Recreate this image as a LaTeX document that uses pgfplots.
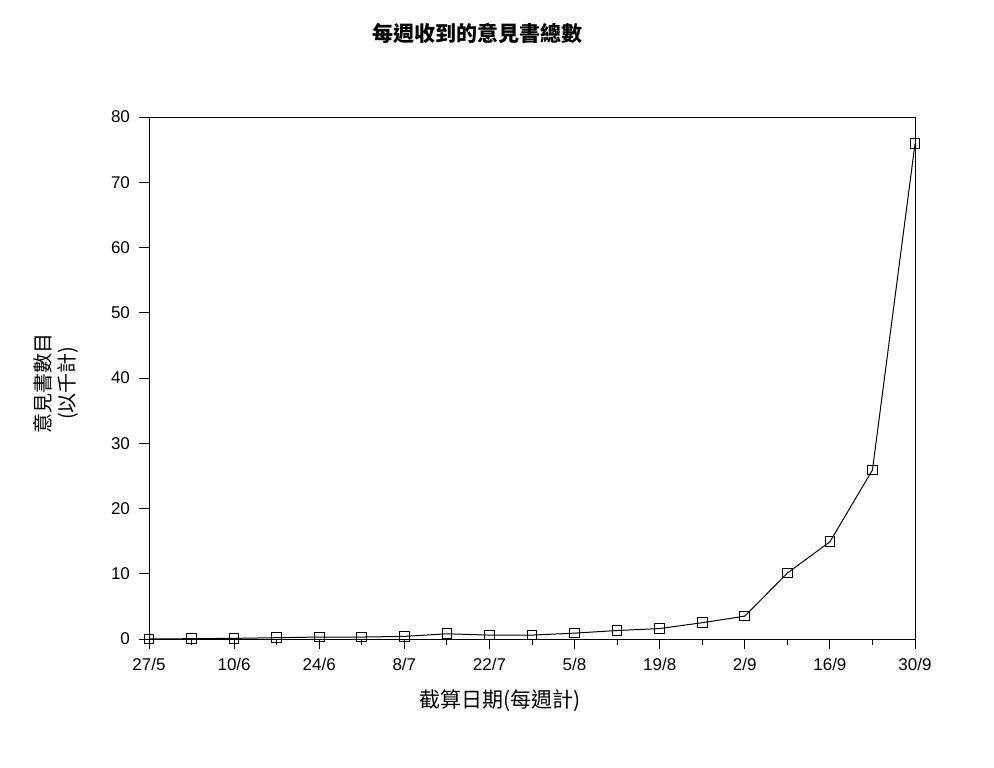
\documentclass[border=0pt]{standalone}
\usepackage{pgfplots}
\pgfplotsset{compat=1.18}
\usepackage{fontspec}
\setmainfont{Liberation Sans}
\newfontfamily\cjk{Noto Sans CJK TC}
\begin{document}
\begin{tikzpicture}
\path (0pt,0pt) rectangle (497pt,383.5pt);
\begin{axis}[
  at={(74.5pt,64pt)}, anchor=south west,
  scale only axis, width=383pt, height=261pt,
  xmin=0, xmax=18, ymin=0, ymax=80,
  xtick={0,2,...,18},
  xticklabels={27/5,10/6,24/6,8/7,22/7,5/8,19/8,2/9,16/9,30/9},
  minor xtick={1,3,...,17},
  ytick={0,10,...,80},
  tick align=outside, xtick pos=bottom, ytick pos=left,
  major tick length=5pt, minor tick length=3pt,
  tick style={black, line width=0.5pt},
  axis line style={line width=0.5pt},
  /pgf/number format/assume math mode=true,
  tick label style={font=\fontsize{8.5}{10}\selectfont},
  xticklabel style={yshift=-1pt},
  yticklabel style={xshift=-1pt},
]
\addplot[black, line width=0.5pt, mark=square, mark size=2.4pt, mark options={line width=0.5pt}]
coordinates {
(0,0) (1,0.05) (2,0.1) (3,0.2) (4,0.3) (5,0.3) (6,0.4) (7,0.8) (8,0.6) (9,0.6)
(10,0.9) (11,1.3) (12,1.6) (13,2.5) (14,3.5) (15,10.1) (16,14.9) (17,25.9) (18,75.9)
};
\end{axis}
\node[font=\cjk\bfseries\fontsize{10.5}{12}\selectfont] at (238.5pt,367pt) {每週收到的意見書總數};
\node[font=\cjk\fontsize{10.5}{12}\selectfont] at (250pt,33pt) {截算日期(每週計)};
\node[font=\cjk\fontsize{10}{12}\selectfont, rotate=90, align=center] at (28pt,192pt) {意見書數目\\(以千計)};
\end{tikzpicture}
\end{document}
